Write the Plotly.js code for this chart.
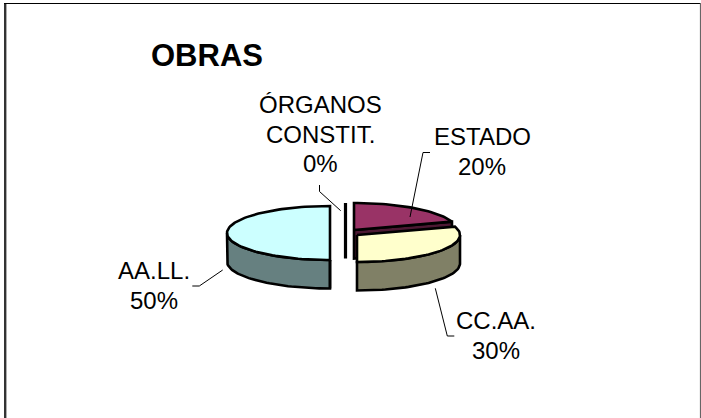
<!DOCTYPE html>
<html>
<head>
<meta charset="utf-8">
<script src="https://cdn.plot.ly/plotly-3.0.1.min.js"></script>
<style>html,body{margin:0;padding:0;background:#fff;overflow:hidden}#chart{width:701px;height:418px}</style>
</head>
<body>
<div id="chart"></div>
<script>
// Data, clockwise from twelve o'clock
const categories = ['ESTADO', 'CC.AA.', 'AA.LL.', 'ÓRGANOS CONSTIT.'];
const labelLines = [['ESTADO'], ['CC.AA.'], ['AA.LL.'], ['ÓRGANOS', 'CONSTIT.']];
const shares = [20, 30, 50, 0];

// Style
const topColors = ['#993366', '#FFFFCC', '#CCFFFF', '#6666CC'];
const sideColors = ['#4D1933', '#808066', '#668080', '#333366'];

// Pie geometry (plot units are pixels of the 701x418 canvas)
const rx = 103, ry = 27, depth = 28.5;
const centerX = [354, 357, 330, 345.5];
const centerY = [230, 235, 233, 230];
const labelX = [482, 496, 154, 320];
const labelBaseline = [145, 329, 279, 113];
const lineGap = 29.6;
const FONT = '"Liberation Sans", Arial, sans-serif';
const leaders = [
  {x: [430, 423, 410], y: [152.5, 152.5, 217]},
  {x: [435.3, 447.3, 454.3], y: [288.3, 336, 336]},
  {x: [222.7, 199.3, 192.3], y: [270, 286, 286]},
  {x: [319.5, 319.5, 340.7], y: [185, 191.5, 210.7]}
];

const point = (i, deg, drop) => {
  const a = deg * Math.PI / 180;
  return [centerX[i] + rx * Math.sin(a), centerY[i] - ry * Math.cos(a) + (drop || 0)];
};
const arc = (i, from, to, drop) => {
  const pts = [];
  for (let d = from; d < to; d += 2) pts.push(point(i, d, drop));
  pts.push(point(i, to, drop));
  return pts;
};
const poly = (pts, fill, width) => ({
  type: 'scatter', mode: 'lines', x: pts.map(p => p[0]), y: pts.map(p => p[1]),
  fill: 'toself', fillcolor: fill,
  line: {color: '#000', width: width, shape: 'linear'},
  hoverinfo: 'skip', showlegend: false
});

// Slice angles from the shares
const total = shares.reduce((a, b) => a + b, 0);
let run = 0;
const slices = shares.map((v, i) => {
  const s = {i, start: run / total * 360, end: (run + v) / total * 360};
  run += v;
  return s;
});

const W = 2.6;
const drawOrder = [2, 3, 0, 1];
const traces = [];
drawOrder.forEach(i => {
  const {start, end} = slices[i];
  const c = [centerX[i], centerY[i]];
  const cd = [centerX[i], centerY[i] + depth];
  if (end === start) {
    // empty slice: only its cut face shows
    const p = point(i, end), q = point(i, end, depth);
    traces.push(poly([c, p, q, cd, c], sideColors[i], 3.2));
    return;
  }
  // cut faces turned to the viewer
  if (end < 180) {
    const p = point(i, end), q = point(i, end, depth);
    traces.push(poly([c, p, q, cd, c], sideColors[i], W));
  }
  // outer wall, front half only
  const from = Math.max(start, 90), to = Math.min(end, 270);
  if (to > from) {
    const wall = arc(i, from, to).concat(arc(i, from, to, depth).reverse());
    wall.push(wall[0]);
    traces.push(poly(wall, sideColors[i], W));
  }
  // vertical edge of the wall at the cut
  if (start >= 90 && start <= 270) {
    const e = point(i, start), f = point(i, start, depth);
    traces.push(poly([e, f], sideColors[i], W));
  }
  // top face
  const top = [c].concat(arc(i, start, end));
  top.push(c);
  traces.push(poly(top, topColors[i], W));
});

// Leader lines
leaders.forEach(l => traces.push({
  type: 'scatter', mode: 'lines', x: l.x, y: l.y,
  line: {color: '#000', width: 1}, hoverinfo: 'skip', showlegend: false
}));

// Labels, one line at a time
const annotations = [];
categories.forEach((c, i) => {
  const lines = labelLines[i].concat([shares[i] + '%']);
  lines.forEach((t, k) => annotations.push({
    xref: 'x', yref: 'y', x: labelX[i], y: labelBaseline[i] + k * lineGap,
    text: t, showarrow: false, xanchor: 'center', yanchor: 'bottom',
    borderpad: 0, yshift: -6,
    font: {family: FONT, size: 24, color: '#000'}
  }));
});

const edge = (x0, y0, x1, y1, color, width) => ({
  type: 'line', xref: 'x', yref: 'y', x0, y0, x1, y1,
  line: {color, width}, layer: 'above'
});

const layout = {
  width: 701, height: 418,
  margin: {l: 0, r: 0, t: 0, b: 0, pad: 0},
  paper_bgcolor: '#fff', plot_bgcolor: '#fff',
  showlegend: false,
  title: {
    text: '<b>OBRAS</b>',
    font: {family: FONT, size: 31, color: '#000'},
    x: 151 / 701, xanchor: 'left', xref: 'paper',
    y: 1 - 55 / 418, yanchor: 'middle', yref: 'paper'
  },
  xaxis: {range: [0, 701], visible: false, fixedrange: true},
  yaxis: {range: [418, 0], visible: false, fixedrange: true},
  annotations,
  shapes: [
    edge(5.2, 3, 5.2, 418, '#333', 2.4),
    edge(4, 3.5, 701, 3.5, '#000', 1.2),
    edge(700.5, 3, 700.5, 418, '#666', 1.2)
  ]
};

Plotly.newPlot('chart', traces, layout, {displayModeBar: false, staticPlot: true});
</script>
</body>
</html>
